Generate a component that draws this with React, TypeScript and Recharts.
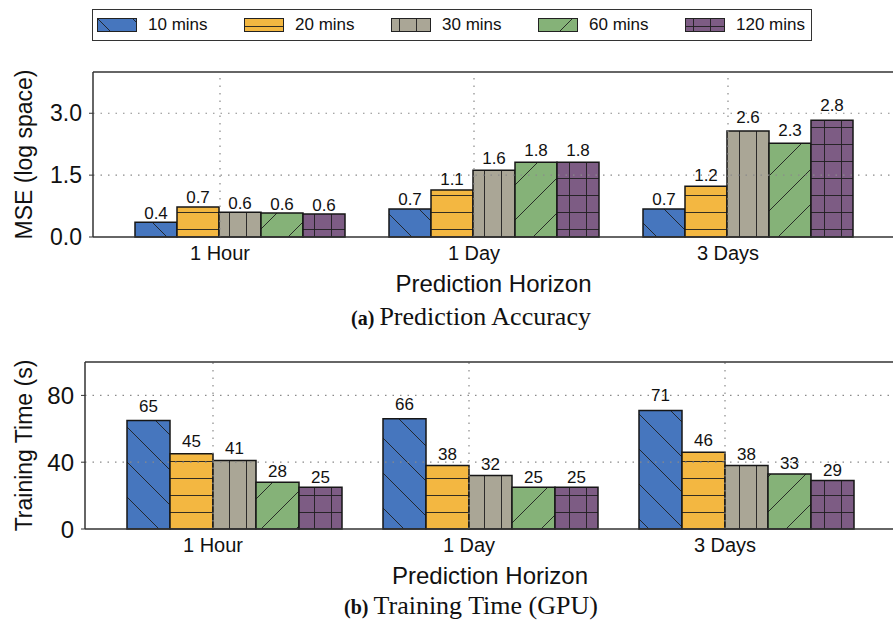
import React from 'react';
import { BarChart, Bar, XAxis, YAxis, ReferenceLine, LabelList } from 'recharts';

const categories = ['1 Hour', '1 Day', '3 Days'];
const seriesNames = ['10 mins', '20 mins', '30 mins', '60 mins', '120 mins'];

// (a) prediction accuracy, MSE in log space
const mse10 = [0.36, 0.68, 0.68];
const mse20 = [0.73, 1.14, 1.23];
const mse30 = [0.6, 1.62, 2.57];
const mse60 = [0.58, 1.81, 2.27];
const mse120 = [0.56, 1.81, 2.83];
const mseTicks = [0, 1.5, 3.0];

// (b) training time on GPU, seconds
const time10 = [65, 66, 71];
const time20 = [45, 38, 46];
const time30 = [41, 32, 38];
const time60 = [28, 25, 33];
const time120 = [25, 25, 29];
const timeTicks = [0, 40, 80];

const COLORS = ['#4676be', '#f3b741', '#aaa696', '#85b278', '#7d5c84'];
const PATTERNS = ['hatch-back', 'hatch-horiz', 'hatch-vert', 'hatch-fwd', 'hatch-grid'];
const SANS = '"Liberation Sans", Arial, Helvetica, sans-serif';
const SERIF = '"Liberation Serif", "Times New Roman", serif';
const KEYS = ['s0', 's1', 's2', 's3', 's4'];

const buildRows = (series: number[][]) =>
  categories.map((name, i) => {
    const row: any = { name };
    series.forEach((vals, s) => {
      row[KEYS[s]] = vals[i];
    });
    return row;
  });

const mseData = buildRows([mse10, mse20, mse30, mse60, mse120]);
const timeData = buildRows([time10, time20, time30, time60, time120]);

const HATCH = { stroke: '#1e1e1e', strokeWidth: 1, strokeOpacity: 0.9, fill: 'none' };

const PatternDefs = () => (
  <defs>
    <pattern id="hatch-back" patternUnits="userSpaceOnUse" width={35} height={35}>
      <rect width={35} height={35} fill={COLORS[0]} />
      <path d="M0,0 L35,35 M-5,30 L5,40 M30,-5 L40,5" {...HATCH} />
    </pattern>
    <pattern id="hatch-horiz" patternUnits="userSpaceOnUse" width={17} height={17}>
      <rect width={17} height={17} fill={COLORS[1]} />
      <path d="M0,8.5 L17,8.5" {...HATCH} />
    </pattern>
    <pattern id="hatch-vert" patternUnits="userSpaceOnUse" width={17} height={17}>
      <rect width={17} height={17} fill={COLORS[2]} />
      <path d="M8.5,0 L8.5,17" {...HATCH} />
    </pattern>
    <pattern id="hatch-fwd" patternUnits="userSpaceOnUse" width={35} height={35}>
      <rect width={35} height={35} fill={COLORS[3]} />
      <path d="M0,35 L35,0 M-5,5 L5,-5 M30,40 L40,30" {...HATCH} />
    </pattern>
    <pattern id="hatch-grid" patternUnits="userSpaceOnUse" width={17} height={17}>
      <rect width={17} height={17} fill={COLORS[4]} />
      <path d="M0,8.5 L17,8.5 M8.5,0 L8.5,17" {...HATCH} />
    </pattern>
  </defs>
);

const makeValueLabel = (digits: number) => (props: any) => {
  const vb = props.viewBox && props.viewBox.width != null ? props.viewBox : props;
  const { x, y, width, height } = vb;
  const gap = 2 + 0.06 * Math.abs(height);
  return (
    <text
      x={x + width / 2}
      y={y - gap}
      textAnchor="middle"
      fontSize={17}
      fill="#111"
      fontFamily={SANS}
    >
      {Number(props.value).toFixed(digits)}
    </text>
  );
};

const YTitle = ({ viewBox, text }: any) => {
  const cx = viewBox.x + 32;
  const cy = viewBox.y + viewBox.height / 2;
  return (
    <text
      x={cx}
      y={cy}
      transform={`rotate(-90 ${cx} ${cy})`}
      textAnchor="middle"
      fontSize={23}
      fill="#111"
      fontFamily={SANS}
    >
      {text}
    </text>
  );
};

const XTitle = ({ viewBox, offset }: any) => (
  <text
    x={viewBox.x + viewBox.width / 2}
    y={viewBox.y + viewBox.height - offset}
    textAnchor="middle"
    fontSize={24}
    fill="#111"
    fontFamily={SANS}
  >
    Prediction Horizon
  </text>
);

interface PanelProps {
  data: any[];
  ticks: number[];
  domain: [number, number];
  yTitle: string;
  digits: number;
  tickDigits: number;
  yWidth: number;
  width: number;
  height: number;
  marginTop: number;
  barSize: number;
  barPad: { left: number; right: number };
  tickPad: { left: number; right: number };
  titleOffset: number;
  tickFont: number;
}

const GRID = { stroke: '#8a8a8a', strokeDasharray: '1.5 6', strokeWidth: 1.2 };

const Panel: React.FC<PanelProps> = (p) => {
  const frame = { stroke: '#333', strokeWidth: 1.5 };
  return (
    <BarChart
      width={p.width}
      height={p.height}
      data={p.data}
      margin={{ top: p.marginTop - 1, right: 5, bottom: 0, left: 0 }}
      barGap={0}
      barSize={p.barSize}
    >
      <XAxis xAxisId="bars" dataKey="name" hide height={0} padding={p.barPad} />
      <XAxis
        xAxisId="top"
        dataKey="name"
        orientation="top"
        height={1}
        tick={false}
        tickLine={false}
        axisLine={frame}
      />
      <XAxis
        xAxisId="ticks"
        dataKey="name"
        padding={p.tickPad}
        interval={0}
        height={60}
        tickLine={false}
        tickSize={0}
        tickMargin={9}
        axisLine={frame}
        tick={{ fontSize: 20, fill: '#111', fontFamily: SANS }}
        label={<XTitle offset={p.titleOffset} />}
      />
      <YAxis
        width={p.yWidth}
        domain={p.domain}
        ticks={p.ticks}
        tickSize={4}
        tickMargin={7}
        axisLine={frame}
        tickLine={{ stroke: '#333' }}
        tick={{ fontSize: p.tickFont, fill: '#111', fontFamily: SANS }}
        tickFormatter={(v: number) => v.toFixed(p.tickDigits)}
        label={<YTitle text={p.yTitle} />}
      />
      {p.ticks
        .filter((t) => t > 0)
        .map((t) => (
          <ReferenceLine key={`h${t}`} y={t} xAxisId="ticks" {...GRID} />
        ))}
      {categories.map((c) => (
        <ReferenceLine key={`v${c}`} x={c} xAxisId="ticks" {...GRID} />
      ))}
      {KEYS.map((k, i) => (
        <Bar
          key={k}
          xAxisId="bars"
          dataKey={k}
          name={seriesNames[i]}
          fill={`url(#${PATTERNS[i]})`}
          stroke="#161616"
          strokeWidth={1.5}
          isAnimationActive={false}
        >
          <LabelList dataKey={k} content={makeValueLabel(p.digits)} />
        </Bar>
      ))}
    </BarChart>
  );
};

const LegendBox = () => (
  <div
    style={{
      position: 'absolute',
      left: 92,
      top: 9,
      width: 720,
      height: 32,
      boxSizing: 'border-box',
      border: '1.3px solid #333',
      display: 'flex',
      alignItems: 'center',
      paddingLeft: 4,
      background: '#fff',
    }}
  >
    {seriesNames.map((name, i) => (
      <div key={name} style={{ display: 'flex', alignItems: 'center', width: 147, flexShrink: 0 }}>
        <svg width={40} height={14} style={{ display: 'block' }}>
          <rect x={0.5} y={0.5} width={39} height={13} fill={`url(#${PATTERNS[i]})`} stroke="#222" strokeWidth={1} />
        </svg>
        <span style={{ marginLeft: 11, fontSize: 17, fontFamily: SANS, color: '#111', whiteSpace: 'nowrap' }}>
          {name}
        </span>
      </div>
    ))}
  </div>
);

const App: React.FC = () => (
  <div
    style={{
      position: 'absolute',
      left: 0,
      top: 0,
      width: 893,
      height: 621,
      overflow: 'hidden',
      background: '#fff',
    }}
  >
    <svg width={893} height={621} style={{ position: 'absolute', left: 0, top: 0 }}>
      <PatternDefs />
      <text x={471} y={325} textAnchor="middle" fill="#111" fontFamily={SERIF}>
        <tspan fontSize={20} fontWeight="bold">(a)</tspan>
        <tspan fontSize={26} dx={5}>Prediction Accuracy</tspan>
      </text>
      <text x={471} y={614} textAnchor="middle" fill="#111" fontFamily={SERIF}>
        <tspan fontSize={20} fontWeight="bold">(b)</tspan>
        <tspan fontSize={26} dx={5}>Training Time (GPU)</tspan>
      </text>
    </svg>

    <div style={{ position: 'absolute', left: 0, top: 0 }}>
      <Panel
        data={mseData}
        ticks={mseTicks}
        domain={[0, 4]}
        yTitle="MSE (log space)"
        digits={1}
        tickDigits={1}
        yWidth={93}
        width={899}
        height={297}
        marginTop={72}
        barSize={42}
        barPad={{ left: 20, right: 19 }}
        tickPad={{ left: 0, right: 39 }}
        titleOffset={7}
        tickFont={23}
      />
    </div>

    <div style={{ position: 'absolute', left: 0, top: 300 }}>
      <Panel
        data={timeData}
        ticks={timeTicks}
        domain={[0, 100]}
        yTitle="Training Time (s)"
        digits={0}
        tickDigits={0}
        yWidth={85}
        width={900}
        height={289}
        marginTop={62}
        barSize={43}
        barPad={{ left: 21, right: 21 }}
        tickPad={{ left: 0, right: 42 }}
        titleOffset={8}
        tickFont={24}
      />
    </div>

    <LegendBox />
  </div>
);

export default App;
